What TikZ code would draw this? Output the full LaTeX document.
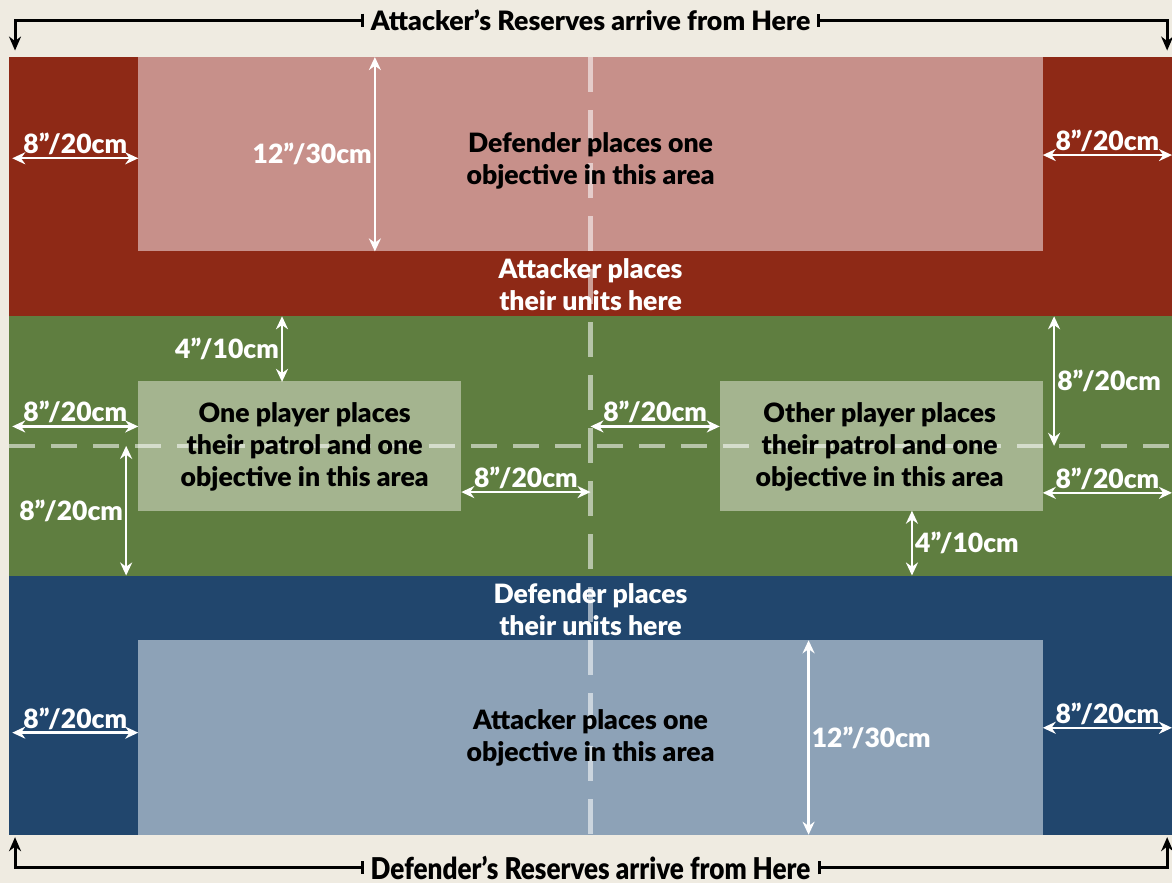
\documentclass[tikz,border=0pt]{standalone}
\usepackage{fontspec}
\setmainfont{Lato}[BoldFont={Lato Black}]
\usetikzlibrary{
  arrows.meta,
  positioning,
  calc
}
\definecolor{tbParch}{HTML}{EFEBE1}
\definecolor{tbRed}{HTML}{8E2916}
\definecolor{tbPink}{HTML}{C7908A}
\definecolor{tbGreen}{HTML}{5F7E40}
\definecolor{tbSage}{HTML}{A4B48F}
\definecolor{tbBlue}{HTML}{21466D}
\definecolor{tbSky}{HTML}{8DA2B7}

\begin{document}
\begin{tikzpicture}[x=16.15pt, y=-16.2pt,
  dimArrow/.style={{Stealth[length=13pt,width=12pt]}-{Stealth[length=13pt,width=12pt]}, white, line width=2.4pt},
  dimLabel/.style={text=white, font=\fontsize{26.5}{30}\selectfont\bfseries, inner sep=2pt},
  areaText/.style={align=center, font=\fontsize{26.6}{32}\selectfont\bfseries},
  edgeText/.style={font=\fontsize{26.7}{32}\selectfont\bfseries, inner xsep=7pt, inner ysep=1pt},
  reserveArrow/.style={{Bar[width=13pt]}-{Stealth[length=14pt,width=12pt]}, line width=3pt, black},
  midLine/.style={white, opacity=0.55, line width=4.5pt}]
  % table and frame
  \fill[tbParch] (-0.56,-3.52) rectangle (72,51);
  \useasboundingbox (-0.56,-3.52) rectangle (72,51);
  % deployment zones
  \fill[tbRed] (0,0) rectangle (72,16);
  \fill[tbPink] (8,0) rectangle (64,12);
  \fill[tbGreen] (0,16) rectangle (72,32);
  \fill[tbSage] (8,20) rectangle (28,28);
  \fill[tbSage] (44,20) rectangle (64,28);
  \fill[tbBlue] (0,32) rectangle (72,48);
  \fill[tbSky] (8,36) rectangle (64,48);
  % centre lines
  \draw[midLine, dash pattern=on 35pt off 18pt] (36,0) -- (36,48);
  \draw[midLine, dash pattern=on 26pt off 16pt] (0,24) -- (72,24);

  \node[areaText] (defObj) at (36,6.4) {Defender places one\\objective in this area};
  \node[areaText, text=white] (attUnits) at (36,14.05) {Attacker places\\their units here};
  \node[areaText] (onePatrol) at (18.3,24.05) {One player places\\their patrol and one\\objective in this area};
  \node[areaText] (otherPatrol) at (53.9,24.05) {Other player places\\their patrol and one\\objective in this area};
  \node[areaText, text=white] (defUnits) at (36,34.1) {Defender places\\their units here};
  \node[areaText] (attObj) at (36,42) {Attacker places one\\objective in this area};

  % 8" gaps across the table
  \foreach \xa/\xb/\yy [count=\i] in {0.2/8/6.25, 64/72/6.05, 0.2/8/22.8, 28/36/26.85,
      36/44/22.8, 64/72/26.9, 0.2/8/41.7, 64/72/41.4}
    \draw[dimArrow] (\xa,\yy) -- node[dimLabel, above] (gap\i) {8”/20cm} (\xb,\yy);
  % depths
  \draw[dimArrow] (22.65,0) -- node[dimLabel, left] (depthA) {12”/30cm} (22.65,12);
  \draw[dimArrow] (49.5,36) -- node[dimLabel, right] (depthD) {12”/30cm} (49.5,48);
  \draw[dimArrow] (64.7,16) -- node[dimLabel, right] (otherTop) {8”/20cm} (64.7,24);
  \draw[dimArrow] (7.25,24) -- node[dimLabel, left] (oneLow) {8”/20cm} (7.25,32);
  \draw[dimArrow] (16.9,16) -- node[dimLabel, left] (oneTop) {4”/10cm} (16.9,20.05);
  \draw[dimArrow] (55.9,28) -- node[dimLabel, right] (otherLow) {4”/10cm} (55.9,32);

  % reserves
  \node[edgeText] (attRes) at (36,-2.28) {Attacker’s Reserves arrive from Here};
  \draw[reserveArrow] (attRes.west) -| (0.37,-0.4);
  \draw[reserveArrow] (attRes.east) -| (71.7,-0.4);
  \node[edgeText] (defRes) at (36,50.05) {\scalebox{0.87}[1]{\fontsize{30}{36}\selectfont Defender’s Reserves arrive from Here}};
  \draw[reserveArrow] (defRes.west) -| (0.37,48.15);
  \draw[reserveArrow] (defRes.east) -| (71.7,48.15);
\end{tikzpicture}
\end{document}
